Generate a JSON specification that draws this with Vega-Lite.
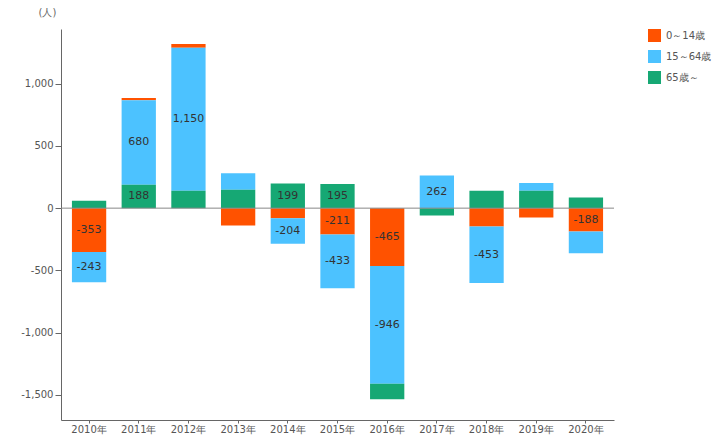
{
  "$schema": "https://vega.github.io/schema/vega-lite/v6.json",
  "width": 553,
  "height": 391,
  "autosize": "none",
  "padding": {"left": 61, "top": 29, "right": 106, "bottom": 15},
  "background": "white",
  "config": {
    "view": {"stroke": null},
    "font": "DejaVu Sans",
    "locale": {"number": {"decimal": ".", "thousands": ",", "grouping": [3], "currency": ["", ""], "minus": "-"}},
    "axis": {"labelFont": "DejaVu Sans", "labelFontSize": 10, "labelColor": "#555", "domainColor": "#666", "tickColor": "#666"}
  },
  "data": {
    "values": [
      {"year": "2010年", "group": "0～14歳", "v": -353},
      {"year": "2010年", "group": "15～64歳", "v": -243},
      {"year": "2010年", "group": "65歳～", "v": 60},
      {"year": "2011年", "group": "0～14歳", "v": 18},
      {"year": "2011年", "group": "15～64歳", "v": 680},
      {"year": "2011年", "group": "65歳～", "v": 188},
      {"year": "2012年", "group": "0～14歳", "v": 30},
      {"year": "2012年", "group": "15～64歳", "v": 1150},
      {"year": "2012年", "group": "65歳～", "v": 140},
      {"year": "2013年", "group": "0～14歳", "v": -140},
      {"year": "2013年", "group": "15～64歳", "v": 134},
      {"year": "2013年", "group": "65歳～", "v": 147},
      {"year": "2014年", "group": "0～14歳", "v": -82},
      {"year": "2014年", "group": "15～64歳", "v": -204},
      {"year": "2014年", "group": "65歳～", "v": 199},
      {"year": "2015年", "group": "0～14歳", "v": -211},
      {"year": "2015年", "group": "15～64歳", "v": -433},
      {"year": "2015年", "group": "65歳～", "v": 195},
      {"year": "2016年", "group": "0～14歳", "v": -465},
      {"year": "2016年", "group": "15～64歳", "v": -946},
      {"year": "2016年", "group": "65歳～", "v": -125},
      {"year": "2017年", "group": "0～14歳", "v": 0},
      {"year": "2017年", "group": "15～64歳", "v": 262},
      {"year": "2017年", "group": "65歳～", "v": -60},
      {"year": "2018年", "group": "0～14歳", "v": -148},
      {"year": "2018年", "group": "15～64歳", "v": -453},
      {"year": "2018年", "group": "65歳～", "v": 140},
      {"year": "2019年", "group": "0～14歳", "v": -75},
      {"year": "2019年", "group": "15～64歳", "v": 62},
      {"year": "2019年", "group": "65歳～", "v": 140},
      {"year": "2020年", "group": "0～14歳", "v": -188},
      {"year": "2020年", "group": "15～64歳", "v": -174},
      {"year": "2020年", "group": "65歳～", "v": 85}
    ]
  },
  "encoding": {
    "x": {
      "field": "year", "type": "nominal", "title": null,
      "scale": {"paddingInner": 0.31, "paddingOuter": 0.22},
      "axis": {"labelAngle": 0, "tickSize": 3, "labelPadding": 1}
    }
  },
  "layer": [
    {
      "transform": [
        {"filter": "datum.v > 0"},
        {"stack": "v", "groupby": ["year"], "sort": [{"field": "group", "order": "descending"}], "as": ["y0", "y1"]},
        {"calculate": "(datum.y0 + datum.y1) / 2", "as": "mid"}
      ],
      "layer": [
        {
          "mark": {"type": "bar"},
          "encoding": {
            "y": {
              "field": "y0", "type": "quantitative",
              "scale": {"domain": [-1703, 1440], "nice": false},
              "axis": {"values": [-1500, -1000, -500, 0, 500, 1000], "format": ",.0f", "grid": false, "tickSize": 6, "title": "(人)", "titleAngle": 0, "titleFontWeight": "normal", "titleFontSize": 10, "titleColor": "#666", "titleX": -14, "titleY": -12, "titleAlign": "center"}
            },
            "y2": {"field": "y1"},
            "color": {
              "field": "group", "type": "nominal",
              "scale": {"domain": ["0～14歳", "15～64歳", "65歳～"], "range": ["#FF5200", "#4CC2FF", "#16A874"]},
              "legend": {"title": null, "orient": "none", "legendX": 587, "legendY": 0, "symbolType": "square", "symbolSize": 169, "symbolStrokeWidth": 0, "symbolOpacity": 1, "rowPadding": 8, "labelFontSize": 10, "labelColor": "#555", "labelOffset": 5}
            }
          }
        },
        {
          "transform": [{"filter": "abs(datum.v) > 180"}],
          "mark": {"type": "text", "fontSize": 11, "color": "#333", "baseline": "middle"},
          "encoding": {
            "y": {"field": "mid", "type": "quantitative"},
            "text": {"field": "v", "type": "quantitative", "format": ",.0f"}
          }
        }
      ]
    },
    {
      "transform": [
        {"filter": "datum.v < 0"},
        {"stack": "v", "groupby": ["year"], "sort": [{"field": "group", "order": "ascending"}], "as": ["y0", "y1"]},
        {"calculate": "(datum.y0 + datum.y1) / 2", "as": "mid"}
      ],
      "layer": [
        {
          "mark": {"type": "bar"},
          "encoding": {
            "y": {"field": "y0", "type": "quantitative"},
            "y2": {"field": "y1"},
            "color": {"field": "group", "type": "nominal"}
          }
        },
        {
          "transform": [{"filter": "abs(datum.v) > 180"}],
          "mark": {"type": "text", "fontSize": 11, "color": "#333", "baseline": "middle"},
          "encoding": {
            "y": {"field": "mid", "type": "quantitative"},
            "text": {"field": "v", "type": "quantitative", "format": ",.0f"}
          }
        }
      ]
    },
    {
      "data": {"values": [{"zero": 0}]},
      "mark": {"type": "rule", "color": "#888", "strokeWidth": 1},
      "encoding": {"x": null, "y": {"field": "zero", "type": "quantitative"}}
    }
  ]
}
